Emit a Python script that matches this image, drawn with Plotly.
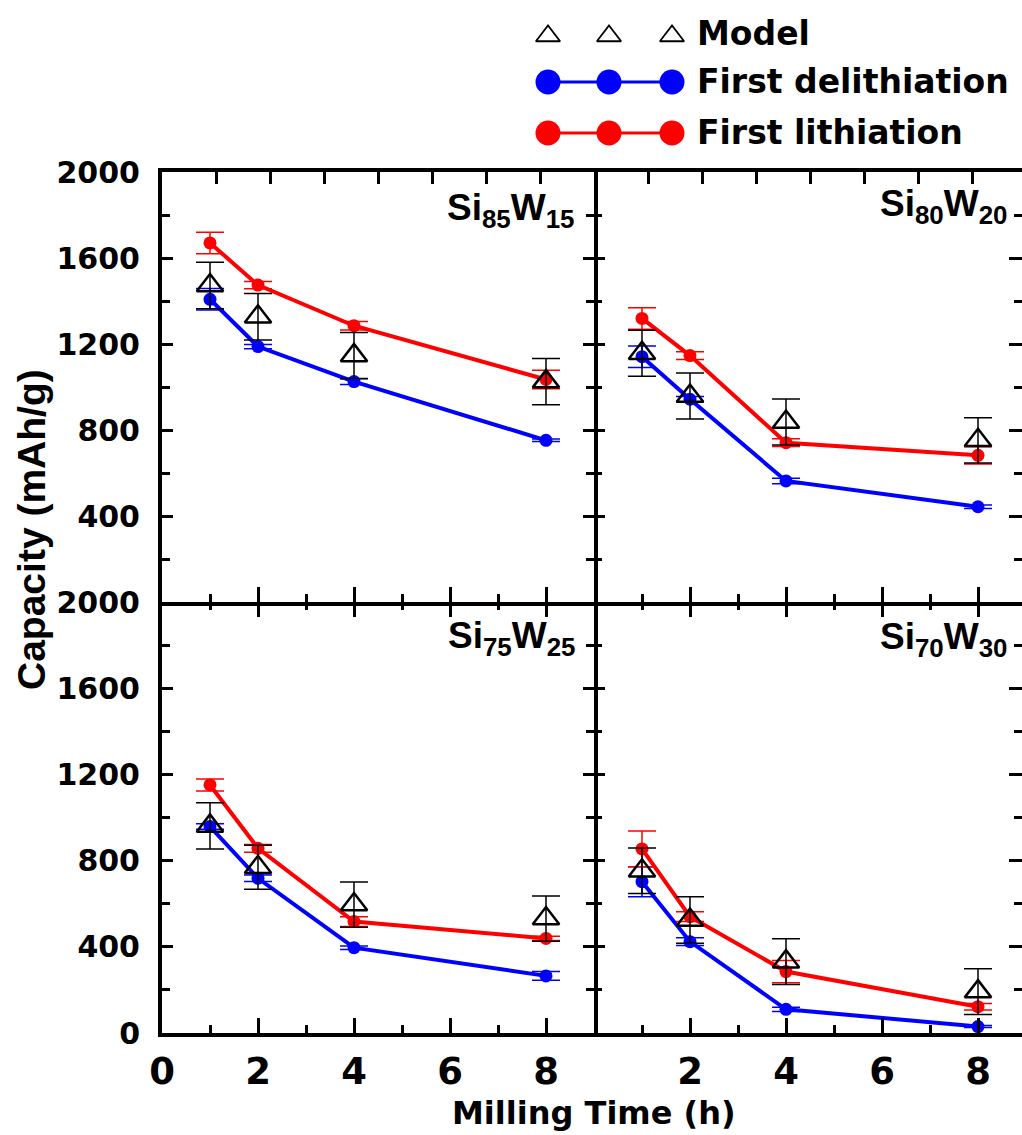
import plotly.graph_objects as go

# ---------------- data ----------------
time_h = [1, 2, 4, 8]

panel_labels = [
    "Si<sub>85</sub>W<sub>15</sub>",
    "Si<sub>80</sub>W<sub>20</sub>",
    "Si<sub>75</sub>W<sub>25</sub>",
    "Si<sub>70</sub>W<sub>30</sub>",
]

lith_85 = [1670, 1474, 1285, 1035]
lith_85_err = [50, 17, 20, 43]
delith_85 = [1408, 1188, 1025, 752]
delith_85_err = [50, 10, 13, 6]
model_85 = [1472, 1327, 1147, 1025]
model_85_err = [108, 108, 107, 107]

lith_80 = [1319, 1146, 741, 682]
lith_80_err = [50, 18, 18, 40]
delith_80 = [1141, 943, 563, 443]
delith_80_err = [50, 13, 13, 8]
model_80 = [1157, 958, 837, 752]
model_80_err = [107, 107, 107, 105]

lith_75 = [1151, 857, 517, 439]
lith_75_err = [28, 18, 23, 10]
delith_75 = [958, 718, 396, 265]
delith_75_err = [13, 15, 8, 20]
model_75 = [961, 769, 596, 531]
model_75_err = [107, 102, 105, 105]

lith_70 = [854, 540, 285, 122]
lith_70_err = [83, 23, 52, 15]
delith_70 = [702, 424, 110, 30]
delith_70_err = [70, 18, 10, 5]
model_70 = [753, 524, 331, 192]
model_70_err = [106, 108, 106, 106]

y_tick_vals = [0, 400, 800, 1200, 1600, 2000]
x_tick_vals = [0, 2, 4, 6, 8]

legend_names = ["Model", "First delithiation", "First lithiation"]

# ---------------- layout helpers (page pixel -> paper) ----------------
W, H = 1022, 1135
def fx(p):
    return p / W
def fy(p):
    return 1 - p / H

LEFT = (162, 594)
RIGHT = (594, 1022)
TOP = (172, 602)
BOTTOM = (602, 1033)
PX_PER_UNIT = 48.0
TOP_TICK_PX = 54.0

RED = "#ff0000"
BLUE = "#0000ff"
BLACK = "#000000"

fig = go.Figure()

panels = [
    (lith_85, lith_85_err, delith_85, delith_85_err, model_85, model_85_err, "x", "y"),
    (lith_80, lith_80_err, delith_80, delith_80_err, model_80, model_80_err, "x2", "y2"),
    (lith_75, lith_75_err, delith_75, delith_75_err, model_75, model_75_err, "x3", "y3"),
    (lith_70, lith_70_err, delith_70, delith_70_err, model_70, model_70_err, "x4", "y4"),
]

for lith, lerr, deli, derr, mod, merr, xa, ya in panels:
    fig.add_trace(go.Scatter(
        x=time_h, y=deli, xaxis=xa, yaxis=ya, mode="lines+markers",
        line=dict(color=BLUE, width=4), marker=dict(color=BLUE, size=13),
        error_y=dict(type="data", array=derr, visible=True, color=BLUE, thickness=1.5, width=14),
        showlegend=False, hoverinfo="skip", cliponaxis=False))
    fig.add_trace(go.Scatter(
        x=time_h, y=lith, xaxis=xa, yaxis=ya, mode="lines+markers",
        line=dict(color=RED, width=4), marker=dict(color=RED, size=13),
        error_y=dict(type="data", array=lerr, visible=True, color=RED, thickness=1.5, width=14),
        showlegend=False, hoverinfo="skip", cliponaxis=False))
    fig.add_trace(go.Scatter(
        x=time_h, y=mod, xaxis=xa, yaxis=ya, mode="markers",
        marker=dict(symbol="triangle-up-open", size=23, color=BLACK, line=dict(width=2.5, color=BLACK)),
        error_y=dict(type="data", array=merr, visible=True, color=BLACK, thickness=1.5, width=14),
        showlegend=False, hoverinfo="skip", cliponaxis=False))

# dummy traces for tick-only overlay axes
for xa, ya in [("x5", "y"), ("x6", "y2"), ("x2", "y5"), ("x4", "y6"), ("x8", "y3"), ("x9", "y4")]:
    fig.add_trace(go.Scatter(x=[], y=[], xaxis=xa, yaxis=ya, showlegend=False, hoverinfo="skip"))

# custom legend keys (pixel space axis)
LEG_X = [548, 609, 672]
LEG_Y = [33, 82, 133]
LEG_TRI_DY = 3
LEG_TEXT_X = 695
fig.add_trace(go.Scatter(
    x=LEG_X, y=[LEG_Y[0] + LEG_TRI_DY] * 3, xaxis="x7", yaxis="y7", mode="markers",
    marker=dict(symbol="triangle-up-open", size=21, color=BLACK, line=dict(width=1.8, color=BLACK)),
    showlegend=False, hoverinfo="skip", cliponaxis=False))
fig.add_trace(go.Scatter(
    x=LEG_X, y=[LEG_Y[1]] * 3, xaxis="x7", yaxis="y7", mode="lines+markers",
    line=dict(color=BLUE, width=3), marker=dict(color=BLUE, size=25),
    showlegend=False, hoverinfo="skip", cliponaxis=False))
fig.add_trace(go.Scatter(
    x=LEG_X, y=[LEG_Y[2]] * 3, xaxis="x7", yaxis="y7", mode="lines+markers",
    line=dict(color=RED, width=3), marker=dict(color=RED, size=25),
    showlegend=False, hoverinfo="skip", cliponaxis=False))

LINE_W = 4
TICK_W = 3
minor_y = dict(dtick=200, ticklen=8, ticks="inside", tickwidth=TICK_W, tickcolor=BLACK)
minor_x = dict(dtick=1, tick0=0, ticklen=8, ticks="inside", tickwidth=TICK_W, tickcolor=BLACK)

base = dict(showline=True, linewidth=LINE_W, linecolor=BLACK, ticks="inside",
            tickwidth=TICK_W, tickcolor=BLACK, showgrid=False, zeroline=False, automargin=False)
tick_only = dict(showline=False, showgrid=False, zeroline=False, showticklabels=False,
                 ticks="inside", tickwidth=TICK_W, tickcolor=BLACK, automargin=False)

xtickfont = dict(family="DejaVu Sans", size=37, color=BLACK, weight="bold")
ytickfont = dict(family="DejaVu Sans", size=30, color=BLACK, weight="bold")

right_range = [0, (RIGHT[1] - RIGHT[0]) / PX_PER_UNIT]
left_range = [0, (LEFT[1] - LEFT[0]) / PX_PER_UNIT]

fig.update_layout(
    width=W, height=H,
    margin=dict(l=0, r=0, t=0, b=0, pad=0, autoexpand=False),
    paper_bgcolor="white", plot_bgcolor="rgba(0,0,0,0)",
    showlegend=False,
    xaxis=dict(base, domain=[fx(LEFT[0]), fx(LEFT[1])], range=left_range, anchor="y",
               tickvals=x_tick_vals, ticklen=15, minor=minor_x, mirror=True, showticklabels=False),
    yaxis=dict(base, domain=[fy(TOP[1]), fy(TOP[0])], range=[0, 2000], anchor="x",
               tickvals=y_tick_vals[1:], ticklen=11, minor=minor_y, mirror="ticks",
               tickfont=ytickfont, ticklabelstandoff=12),
    xaxis2=dict(base, domain=[fx(RIGHT[0]), fx(RIGHT[1])], range=right_range, anchor="y2",
                tickvals=x_tick_vals, ticklen=15, minor=minor_x, mirror=True, showticklabels=False),
    yaxis2=dict(base, domain=[fy(TOP[1]), fy(TOP[0])], range=[0, 2000], anchor="x2",
                tickvals=y_tick_vals, ticklen=11, minor=minor_y, mirror=False, showline=False,
                showticklabels=False),
    xaxis3=dict(base, domain=[fx(LEFT[0]), fx(LEFT[1])], range=left_range, anchor="y3",
                tickvals=x_tick_vals, ticklen=15, minor=minor_x, mirror=False,
                tickfont=xtickfont, ticklabelstandoff=3),
    yaxis3=dict(base, domain=[fy(BOTTOM[1]), fy(BOTTOM[0])], range=[0, 2000], anchor="x3",
                tickvals=y_tick_vals, ticklen=11, minor=minor_y, mirror="ticks",
                tickfont=ytickfont, ticklabelstandoff=12),
    xaxis4=dict(base, domain=[fx(RIGHT[0]), fx(RIGHT[1])], range=right_range, anchor="y4",
                tickvals=x_tick_vals[1:], ticklen=15, minor=minor_x, mirror=False,
                tickfont=xtickfont, ticklabelstandoff=3),
    yaxis4=dict(base, domain=[fy(BOTTOM[1]), fy(BOTTOM[0])], range=[0, 2000], anchor="x4",
                tickvals=y_tick_vals, ticklen=11, minor=minor_y, mirror=False, showline=False,
                showticklabels=False),
    # top ticks of the upper panels (different spacing in the original)
    xaxis5=dict(tick_only, overlaying="x", anchor="y", side="top",
                range=[0, (LEFT[1] - LEFT[0]) / TOP_TICK_PX], dtick=1, tick0=0, ticklen=12),
    xaxis6=dict(tick_only, overlaying="x2", anchor="y2", side="top",
                range=[0, (RIGHT[1] - RIGHT[0]) / TOP_TICK_PX], dtick=1, tick0=0, ticklen=12),
    # top ticks of the lower panels (line shared with upper panels)
    xaxis8=dict(tick_only, overlaying="x3", anchor="y3", side="top", range=left_range,
                tickvals=x_tick_vals, ticklen=15, minor=minor_x),
    xaxis9=dict(tick_only, overlaying="x4", anchor="y4", side="top", range=right_range,
                tickvals=x_tick_vals, ticklen=15, minor=minor_x),
    # right-edge ticks of the right panels (no frame line there)
    yaxis5=dict(tick_only, overlaying="y2", anchor="x2", side="right", range=[0, 2000],
                tickvals=y_tick_vals, ticklen=13, minor=minor_y),
    yaxis6=dict(tick_only, overlaying="y4", anchor="x4", side="right", range=[0, 2000],
                tickvals=y_tick_vals, ticklen=13, minor=minor_y),
    xaxis7=dict(domain=[0, 1], range=[0, W], anchor="y7", visible=False, automargin=False),
    yaxis7=dict(domain=[0, 1], range=[H, 0], anchor="x7", visible=False, automargin=False),
)

annotations = []
label_font = dict(family="Liberation Sans", size=37, color=BLACK, weight="bold")
label_pos = [(577, 185), (1010, 181), (578, 613), (1010, 614)]
for text, (px, py) in zip(panel_labels, label_pos):
    annotations.append(dict(text=text, x=fx(px), y=fy(py), xref="paper", yref="paper",
                            xanchor="right", yanchor="top", showarrow=False, font=label_font))

leg_font = dict(family="DejaVu Sans", size=33, color=BLACK, weight="bold")
for name, py in zip(legend_names, LEG_Y):
    annotations.append(dict(text=name, x=fx(LEG_TEXT_X), y=fy(py), xref="paper", yref="paper",
                            xanchor="left", yanchor="middle", showarrow=False, font=leg_font))

annotations.append(dict(text="Capacity (mAh/g)", textangle=-90, x=fx(31), y=fy(530),
                        xref="paper", yref="paper", xanchor="center", yanchor="middle",
                        showarrow=False,
                        font=dict(family="Liberation Sans", size=39, color=BLACK, weight="bold")))
annotations.append(dict(text="Milling Time (h)", x=fx(594), y=fy(1113),
                        xref="paper", yref="paper", xanchor="center", yanchor="middle",
                        showarrow=False,
                        font=dict(family="DejaVu Sans", size=32, color=BLACK, weight="bold")))
fig.update_layout(annotations=annotations)

fig.write_html("out.html")
